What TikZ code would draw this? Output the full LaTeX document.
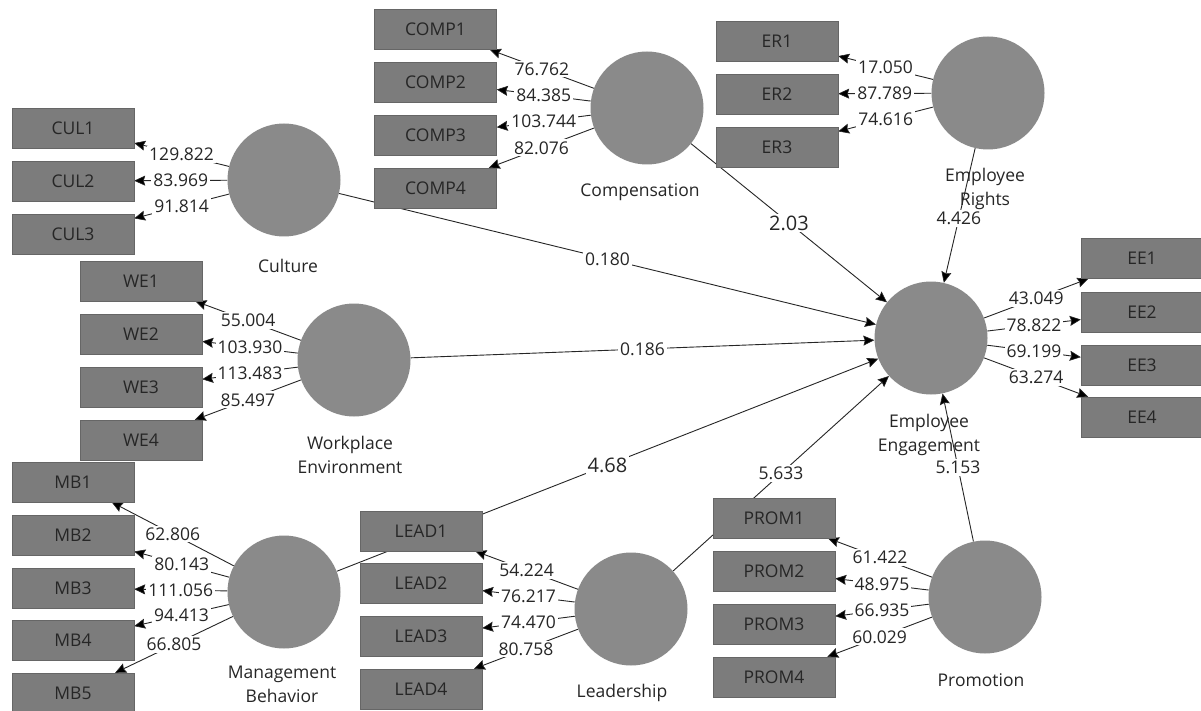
\documentclass[tikz,border=0pt]{standalone}
\usepackage{fontspec}
\setmainfont{Open Sans}
\usetikzlibrary{arrows.meta}
\definecolor{boxfill}{HTML}{7C7C7C}
\definecolor{boxline}{HTML}{666666}
\definecolor{circfill}{HTML}{8A8A8A}
\definecolor{txt}{HTML}{262626}
\pgfdeclarelayer{background}
\pgfdeclarelayer{canvas}
\pgfsetlayers{canvas,background,main}
\tikzset{
  ind/.style={draw=boxline, fill=boxfill, minimum width=122pt, minimum height=40pt, inner sep=0pt,
    text=txt, font=\fontsize{17.5}{20}\selectfont},
  lat/.style={circle, fill=circfill, minimum size=113pt, inner sep=0pt},
  latlbl/.style={text=txt, font=\fontsize{17.5}{24}\selectfont, align=center, inner sep=0pt},
  conn/.style={draw=txt, line width=0.9pt, -{Stealth[length=11pt,width=10pt,inset=1.5pt,fill=black,line width=0.6pt]}},
  val/.style={fill=white, text=txt, inner sep=2pt, font=\fontsize{17.5}{20}\selectfont},
  bigval/.style={fill=white, text=txt, inner sep=2pt, font=\fontsize{20}{22}\selectfont},
}
\begin{document}
\begin{tikzpicture}[x=1pt, y=-1pt]
\useasboundingbox (0,0) rectangle (1201,711);
\begin{pgfonlayer}{canvas}
\fill[white] (0,0) rectangle (1201,711);
\end{pgfonlayer}
% latent variables
\node[lat] (cul) at (284,180) {};
\node[lat] (comp) at (647,108) {};
\node[lat] (er) at (988,93) {};
\node[lat] (ee) at (931,338) {};
\node[lat] (we) at (354,360) {};
\node[lat] (mb) at (284,592) {};
\node[lat] (lead) at (631,609) {};
\node[lat] (prom) at (985,597) {};
% latent labels
\node[latlbl] (tcul) at (288,266) {Culture};
\node[latlbl] (tcomp) at (640,192) {Compensation};
\node[latlbl] (ter) at (985,189) {Employee\\Rights};
\node[latlbl] (tee) at (929,435) {Employee\\Engagement};
\node[latlbl] (twe) at (350,455) {Workplace\\Environment};
\node[latlbl] (tmb) at (282,684) {Management\\Behavior};
\node[latlbl] (tlead) at (622,693) {Leadership};
\node[latlbl] (tprom) at (981,680) {Promotion};
% indicators
\node[ind] (cul1) at (73,128) {CUL1};
\node[ind] (cul2) at (73,181) {CUL2};
\node[ind] (cul3) at (73,234) {CUL3};
\node[ind] (comp1) at (435.5,29.5) {COMP1};
\node[ind] (comp2) at (435.5,82) {COMP2};
\node[ind] (comp3) at (435.5,135) {COMP3};
\node[ind] (comp4) at (435.5,188) {COMP4};
\node[ind] (er1) at (777,41) {ER1};
\node[ind] (er2) at (777,94) {ER2};
\node[ind] (er3) at (777,147) {ER3};
\node[ind] (ee1) at (1142,258.5) {EE1};
\node[ind] (ee2) at (1142,312) {EE2};
\node[ind] (ee3) at (1142,365) {EE3};
\node[ind] (ee4) at (1142,417) {EE4};
\node[ind] (we1) at (141,281) {WE1};
\node[ind] (we2) at (141,334) {WE2};
\node[ind] (we3) at (141,387) {WE3};
\node[ind] (we4) at (141,440) {WE4};
\node[ind] (mb1) at (73,482) {MB1};
\node[ind] (mb2) at (73,535) {MB2};
\node[ind] (mb3) at (73,588) {MB3};
\node[ind] (mb4) at (73,640) {MB4};
\node[ind] (mb5) at (73,693) {MB5};
\node[ind] (lead1) at (421,531) {LEAD1};
\node[ind] (lead2) at (421,583) {LEAD2};
\node[ind] (lead3) at (421,636) {LEAD3};
\node[ind] (lead4) at (421,689) {LEAD4};
\node[ind] (prom1) at (774,518) {PROM1};
\node[ind] (prom2) at (774,571) {PROM2};
\node[ind] (prom3) at (774,624) {PROM3};
\node[ind] (prom4) at (774,677) {PROM4};
\begin{pgfonlayer}{background}
% outer model
\draw[conn] (cul) -- node[val] {129.822} (cul1);
\draw[conn] (cul) -- node[val] {83.969} (cul2);
\draw[conn] (cul) -- node[val] {91.814} (cul3);
\draw[conn] (comp) -- node[val] {76.762} (comp1);
\draw[conn] (comp) -- node[val] {84.385} (comp2);
\draw[conn] (comp) -- node[val] {103.744} (comp3);
\draw[conn] (comp) -- node[val] {82.076} (comp4);
\draw[conn] (er) -- node[val] {17.050} (er1);
\draw[conn] (er) -- node[val] {87.789} (er2);
\draw[conn] (er) -- node[val] {74.616} (er3);
\draw[conn] (ee) -- node[val] {43.049} (ee1);
\draw[conn] (ee) -- node[val] {78.822} (ee2);
\draw[conn] (ee) -- node[val] {69.199} (ee3);
\draw[conn] (ee) -- node[val] {63.274} (ee4);
\draw[conn] (we) -- node[val] {55.004} (we1);
\draw[conn] (we) -- node[val] {103.930} (we2);
\draw[conn] (we) -- node[val] {113.483} (we3);
\draw[conn] (we) -- node[val] {85.497} (we4);
\draw[conn] (mb) -- node[val] {62.806} (mb1);
\draw[conn] (mb) -- node[val] {80.143} (mb2);
\draw[conn] (mb) -- node[val] {111.056} (mb3);
\draw[conn] (mb) -- node[val] {94.413} (mb4);
\draw[conn] (mb) -- node[val] {66.805} (mb5);
\draw[conn] (lead) -- node[val] {54.224} (lead1);
\draw[conn] (lead) -- node[val] {76.217} (lead2);
\draw[conn] (lead) -- node[val] {74.470} (lead3);
\draw[conn] (lead) -- node[val] {80.758} (lead4);
\draw[conn] (prom) -- node[val] {61.422} (prom1);
\draw[conn] (prom) -- node[val] {48.975} (prom2);
\draw[conn] (prom) -- node[val] {66.935} (prom3);
\draw[conn] (prom) -- node[val] {60.029} (prom4);
% inner model
\draw[conn] (cul) -- node[val] {0.180} (ee);
\draw[conn] (comp) -- node[bigval] {2.03} (ee);
\draw[conn] (er) -- node[val, pos=0.52] {4.426} (ee);
\draw[conn] (we) -- node[val] {0.186} (ee);
\draw[conn] (mb) -- node[bigval] {4.68} (ee);
\draw[conn] (lead) -- node[val] {5.633} (ee);
\draw[conn] (prom) -- node[val] {5.153} (ee);
\end{pgfonlayer}
\end{tikzpicture}
\end{document}
